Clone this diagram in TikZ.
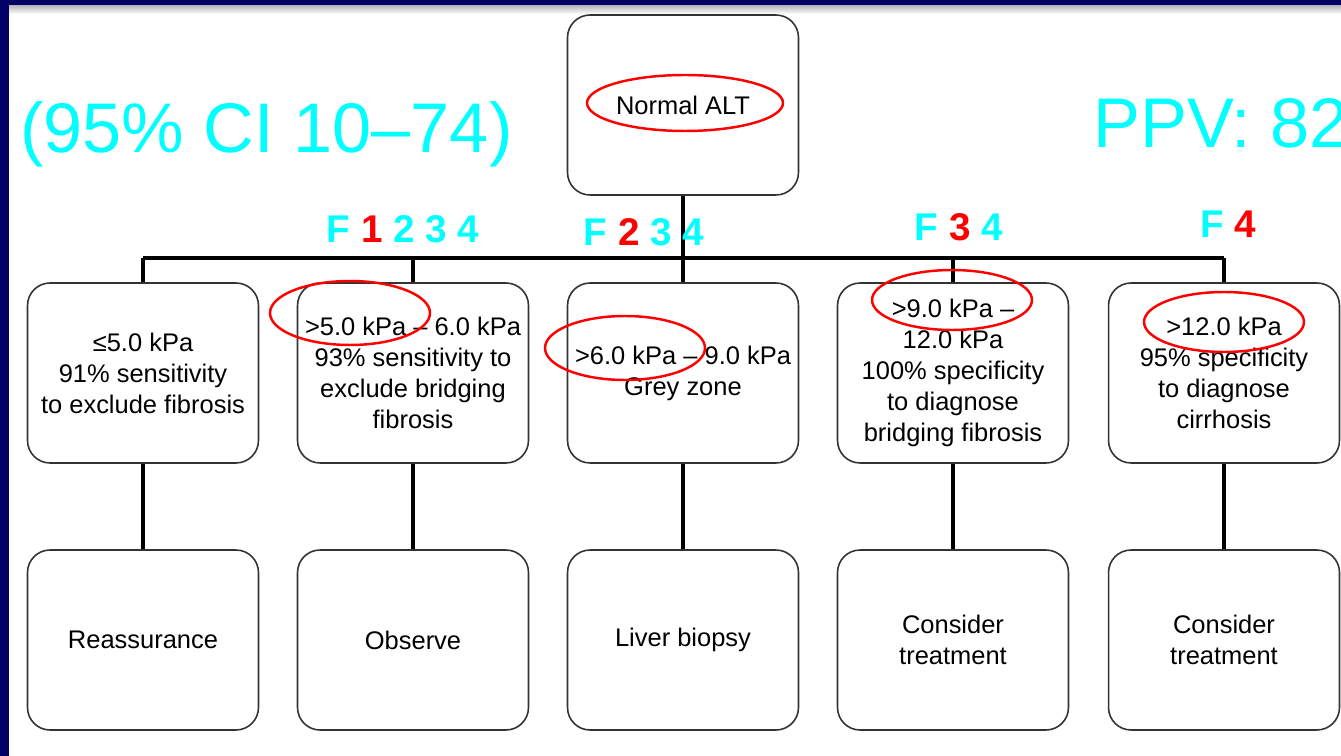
\documentclass[tikz,border=0pt]{standalone}
\usepackage{fontspec}
\setmainfont{Liberation Sans}
\usetikzlibrary{positioning}
\definecolor{navy}{RGB}{0,0,102}
\definecolor{aqua}{RGB}{0,255,255}
\definecolor{hotred}{RGB}{255,0,0}

\begin{document}
\begin{tikzpicture}[x=0.02cm, y=-0.02cm,
  box/.style={draw=black!80, line width=0.9pt, rounded corners=0.45cm,
    minimum width=4.62cm, minimum height=3.6cm, align=center, inner sep=0pt,
    font=\fontsize{14.5}{17.6}\selectfont},
  link/.style={black, line width=1.8pt},
  ring/.style={hotred, line width=1.4pt},
  big/.style={aqua, inner sep=0pt, anchor=base west, font=\fontsize{40}{48}\selectfont},
  level/.style={aqua, inner sep=0pt, anchor=base, font=\fontsize{22}{26}\selectfont\bfseries}]

  \clip (0, 0) rectangle (1341, 756);
  \fill[white] (0, 0) rectangle (1341, 756);

  % slide frame
  \shade[top color=black!30, bottom color=white] (0, 5) rectangle (1341, 14);
  \fill[navy] (0, 0) rectangle (1341, 5);
  \fill[navy] (0, 0) rectangle (9, 756);

  % top box
  \node[box] (alt) at (683, 105) {Normal ALT};

  % first row
  \node[box] (r1) at (143, 373) {≤5.0 kPa\\91\% sensitivity\\to exclude fibrosis};
  \node[box] (r2) at (413, 373) {>5.0 kPa -- 6.0 kPa\\93\% sensitivity to\\exclude bridging\\fibrosis};
  \node[box] (r3) at (683, 373) {>6.0 kPa -- 9.0 kPa\\Grey zone};
  \node[box] (r4) at (953, 373) {>9.0 kPa --\\12.0 kPa\\100\% specificity\\to diagnose\\bridging fibrosis};
  \node[box] (r5) at (1224, 373) {>12.0 kPa\\95\% specificity\\to diagnose\\cirrhosis};

  % second row
  \node[box] (b1) at (143, 640) {Reassurance};
  \node[box] (b2) at (413, 640) {Observe};
  \node[box] (b3) at (683, 640) {Liver biopsy};
  \node[box] (b4) at (953, 640) {Consider\\treatment};
  \node[box] (b5) at (1224, 640) {Consider\\treatment};

  % connectors
  \coordinate (hub) at (683, 258);
  \draw[link] (alt.south) -- (hub);
  \draw[link] (hub -| r1.north) -- (hub -| r5.north);
  \foreach \i in {1, ..., 5} {
    \draw[link] (hub -| r\i.north) -- (r\i.north);
    \draw[link] (r\i.south) -- (b\i.north);
  }

  % fibrosis stages
  \node[level] (fa) at (403, 243) {F \textcolor{hotred}{1} 2 3 4};
  \node[level] (fb) at (644, 246) {F \textcolor{hotred}{2} 3 4};
  \node[level] (fc) at (959, 241) {F \textcolor{hotred}{3} 4};
  \node[level] (fd) at (1228, 238) {F \textcolor{hotred}{4}};

  % overlay texts
  \node[big] (ci) at (20, 153) {(95\% CI 10--74)};
  \node[big] (ppv) at (1093, 148) {PPV: 82};

  % red marks
  \draw[ring] (685, 103) ellipse [x radius=1.96cm, y radius=0.56cm];
  \draw[ring] (350, 313) ellipse [x radius=1.6cm, y radius=0.64cm];
  \draw[ring] (625, 348) ellipse [x radius=1.6cm, y radius=0.64cm];
  \draw[ring] (952, 300) ellipse [x radius=1.6cm, y radius=0.6cm];
  \draw[ring] (1224, 322) ellipse [x radius=1.6cm, y radius=0.6cm];

\end{tikzpicture}
\end{document}
